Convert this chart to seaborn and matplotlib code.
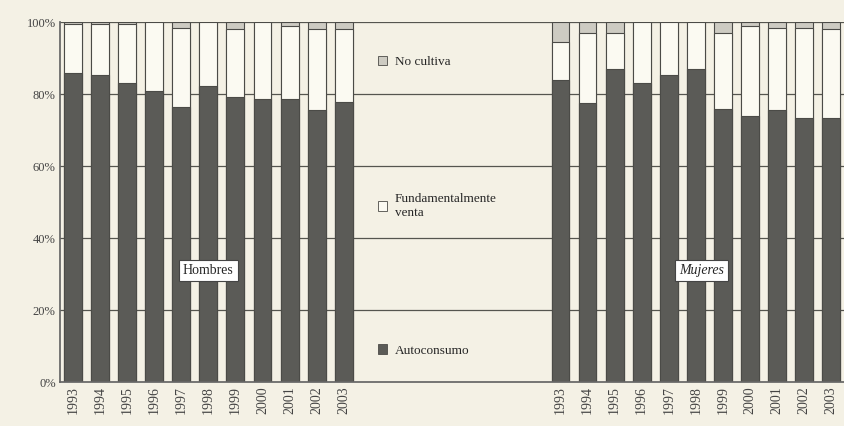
import numpy as np
import pandas as pd
import matplotlib
matplotlib.use("Agg")
import matplotlib.pyplot as plt
import seaborn as sns
from matplotlib.patches import Patch

years = ["1993", "1994", "1995", "1996", "1997", "1998", "1999", "2000", "2001", "2002", "2003"]
hombres_auto = [85.8, 85.4, 83.1, 80.9, 76.4, 82.3, 79.2, 78.6, 78.6, 75.7, 77.8]
hombres_nocultiva = [0.5, 0.5, 0.5, 0.0, 1.5, 0.0, 2.0, 0.0, 1.0, 2.0, 2.0]
mujeres_auto = [84.0, 77.5, 87.0, 83.2, 85.3, 87.0, 76.0, 74.0, 75.5, 73.5, 73.5]
mujeres_nocultiva = [5.5, 3.0, 3.0, 0.0, 0.0, 0.0, 3.0, 1.0, 1.5, 1.5, 2.0]
n_gap = 7

rows = []
for y, a, n in zip(years, hombres_auto, hombres_nocultiva):
    rows.append(dict(key="H" + y, year=y, auto=a, venta=100 - a - n, no=n))
for y, a, n in zip(years, mujeres_auto, mujeres_nocultiva):
    rows.append(dict(key="M" + y, year=y, auto=a, venta=100 - a - n, no=n))
df = pd.DataFrame(rows)
df["top_no"] = df["auto"] + df["venta"] + df["no"]
df["top_venta"] = df["auto"] + df["venta"]

order = ["H" + y for y in years] + [f"gap{i}" for i in range(n_gap)] + ["M" + y for y in years]

bg = "#f4f1e5"
dark = "#5b5b57"
white = "#fbfaf2"
light = "#cdcbc2"
edge = "#4b4b47"

sns.set_theme(style="white")
plt.rcParams["font.family"] = ["Liberation Serif", "DejaVu Serif"]

fig = plt.figure(figsize=(8.44, 4.26), dpi=100, facecolor=bg)
ax = fig.add_axes([0.071, 0.103, 0.93, 0.845])
ax.set_facecolor(bg)

w = 0.66
sns.barplot(data=df, x="key", y="top_no", order=order, color=light, width=w,
            edgecolor=edge, linewidth=0.8, saturation=1, ax=ax, errorbar=None)
sns.barplot(data=df, x="key", y="top_venta", order=order, color=white, width=w,
            edgecolor=edge, linewidth=0.8, saturation=1, ax=ax, errorbar=None)
sns.barplot(data=df, x="key", y="auto", order=order, color=dark, width=w,
            edgecolor=edge, linewidth=0.8, saturation=1, ax=ax, errorbar=None)

for gy in [20, 40, 60, 80, 100]:
    ax.axhline(gy, color="#55554f", lw=0.9, zorder=0.5)

ax.set_ylim(0, 100)
ax.set_xlim(-0.48, 28.5)
ax.set_yticks([0, 20, 40, 60, 80, 100])
ax.set_yticklabels([f"{v}%" for v in [0, 20, 40, 60, 80, 100]], fontsize=9, color="#444")
pos = [order.index(k) for k in df["key"]]
ax.set_xticks(pos)
ax.set_xticklabels(df["year"], rotation=90, fontsize=10, color="#444")
ax.set_xlabel("")
ax.set_ylabel("")
ax.tick_params(axis="both", length=0, pad=3)
for s in ["top", "right"]:
    ax.spines[s].set_visible(False)
ax.spines["left"].set_color("#666")
ax.spines["bottom"].set_color("#666")

box = dict(boxstyle="square,pad=0.3", fc="white", ec="#444", lw=0.8)
ax.text(5.0, 31, "Hombres", ha="center", va="center", fontsize=10, bbox=box, zorder=5)
ax.text(23.2, 31, "Mujeres", ha="center", va="center", fontsize=10, fontstyle="italic", bbox=box, zorder=5)

handles = [Patch(fc=light, ec=edge, lw=0.6), Patch(fc=white, ec=edge, lw=0.6), Patch(fc=dark, ec=edge, lw=0.6)]
labels = ["No cultiva", "Fundamentalmente\nventa", "Autoconsumo"]
leg = ax.legend(handles, labels, loc="upper left", bbox_to_anchor=(0.39, 0.94),
                frameon=False, fontsize=9.5, labelspacing=9.5, handlelength=0.7,
                handleheight=0.7, handletextpad=0.6)

fig.savefig("out.png", dpi=100, facecolor=bg)
